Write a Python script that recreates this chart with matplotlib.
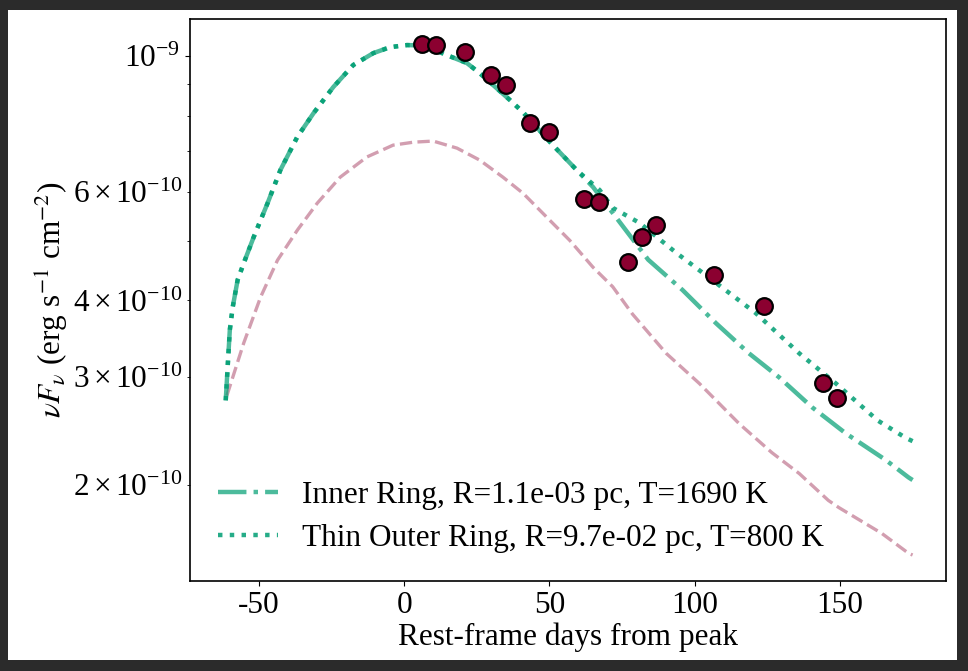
import numpy as np
import matplotlib
matplotlib.use("Agg")
import matplotlib.pyplot as plt
from matplotlib.patches import Rectangle

# observed photometry (rest-frame days, nuFnu in erg/s/cm2)
obs_days = [6.2, 11, 21, 30, 35, 43.2, 50, 62, 67, 77, 81.7, 86.8, 106.7, 124, 144, 149]
obs_flux = [10.46, 10.42, 10.15, 9.31, 8.97, 7.78, 7.52, 5.85, 5.78, 4.62, 5.07, 5.30,
            4.40, 3.92, 2.94, 2.77]

# inner ring model
inner_days = [-61.4, -60.6, -60.0, -59.0, -57.3, -55.2, -51.8, -47.0, -42.6, -36.8, -31.2,
              -24.4, -17.5, -10.6, -4.8, 1.0, 7.0, 14.6, 21.6, 26, 36.4, 40.8, 51.2, 59.4,
              65, 74, 84, 95.8, 107.4, 118.7, 129, 140.4, 152, 165.7, 173.6, 175]
inner_flux = [2.75, 3.20, 3.58, 3.90, 4.32, 4.60, 5.07, 5.76, 6.52, 7.38, 8.07,
              8.90, 9.67, 10.11, 10.34, 10.42, 10.40, 10.04, 9.74, 9.38, 8.48, 8.11, 7.16, 6.52,
              6.12, 5.38, 4.66, 4.16, 3.67, 3.28, 3.00, 2.68, 2.43, 2.20, 2.06, 2.04]

# thin outer ring model
outer_days = [-61.4, -60.6, -60.0, -59.0, -57.3, -55.2, -51.8, -47.0, -42.6, -36.8, -31.2,
              -24.4, -17.5, -10.6, -4.8, 1.0, 7.0, 14.6, 21.6, 26, 36.4, 40.8, 51.2, 59.4,
              67.3, 71.8, 81, 93.7, 107.4, 121, 136, 148.6, 163, 172.6, 175]
outer_flux = [2.75, 3.20, 3.58, 3.90, 4.32, 4.60, 5.07, 5.76, 6.52, 7.38, 8.07,
              8.90, 9.67, 10.11, 10.34, 10.42, 10.40, 10.04, 9.74, 9.38, 8.48, 8.11, 7.16, 6.52,
              6.05, 5.66, 5.35, 4.78, 4.27, 3.815, 3.28, 2.93, 2.55, 2.39, 2.36]

# unlabelled dashed model
dash_days = [-61, -55.2, -49.4, -43.6, -36.7, -29.9, -22, -12.8, -3.8, 3.2, 10, 18.2, 26,
             34, 40.9, 49, 57, 65, 71.8, 78.6, 90.2, 101.6, 115.3, 126.6, 136, 146, 149.6,
             164.4, 173.6, 175]
dash_flux = [2.80, 3.41, 4.05, 4.65, 5.21, 5.76, 6.35, 6.85, 7.16, 7.24, 7.27, 7.08, 6.77,
             6.35, 5.98, 5.47, 5.01, 4.53, 4.21, 3.80, 3.28, 2.93, 2.52, 2.26, 2.09, 1.89, 1.84,
             1.67, 1.55, 1.54]

inner_label = "Inner Ring, R=1.1e-03 pc, T=1690 K"
outer_label = "Thin Outer Ring, R=9.7e-02 pc, T=800 K"

plt.rcParams['font.family'] = ['Liberation Serif', 'DejaVu Serif']
plt.rcParams['mathtext.fontset'] = 'stix'
plt.rcParams['axes.unicode_minus'] = False
plt.rcParams['font.size'] = 22.5

fig = plt.figure(figsize=(9.68, 6.71), dpi=100, facecolor='#2b2b2b')
fig.patches.append(Rectangle((8/968, 11/671), 949/968, 650/671, transform=fig.transFigure,
                             facecolor='white', edgecolor='none', zorder=-10))
ax = fig.add_axes([190/968, 90/671, 756/968, 562/671])

scale = 1e-10
green = '#009E73'
ax.plot(dash_days, np.array(dash_flux) * scale, ls='--', lw=2.4, color='#8b0030', alpha=0.38)
ax.plot(inner_days, np.array(inner_flux) * scale, ls='-.', lw=3.2, color=green, alpha=0.7,
        label=inner_label)
ax.plot(outer_days, np.array(outer_flux) * scale, ls=':', lw=3.2, color=green, alpha=0.85,
        label=outer_label)
ax.plot(obs_days, np.array(obs_flux) * scale, 'o', ms=12, mfc='#8b0030', mec='black',
        mew=1.6, ls='none', zorder=5)

ax.set_yscale('log')
ax.set_xlim(-73.7, 186.5)
ax.set_ylim(1.397e-10, 1.149e-9)
ax.set_xticks([-50, 0, 50, 100, 150])
ax.set_xlabel('Rest-frame days from peak', labelpad=2)
ax.set_ylabel(r'$\nu F_\nu$ (erg s$^{-1}$ cm$^{-2}$)', labelpad=2)
for s in ax.spines.values():
    s.set_linewidth(1.2)

ax.legend(loc='lower left', frameon=False, handlelength=1.9, labelspacing=0.45)

fig.savefig('out.png', dpi=100, facecolor=fig.get_facecolor())
